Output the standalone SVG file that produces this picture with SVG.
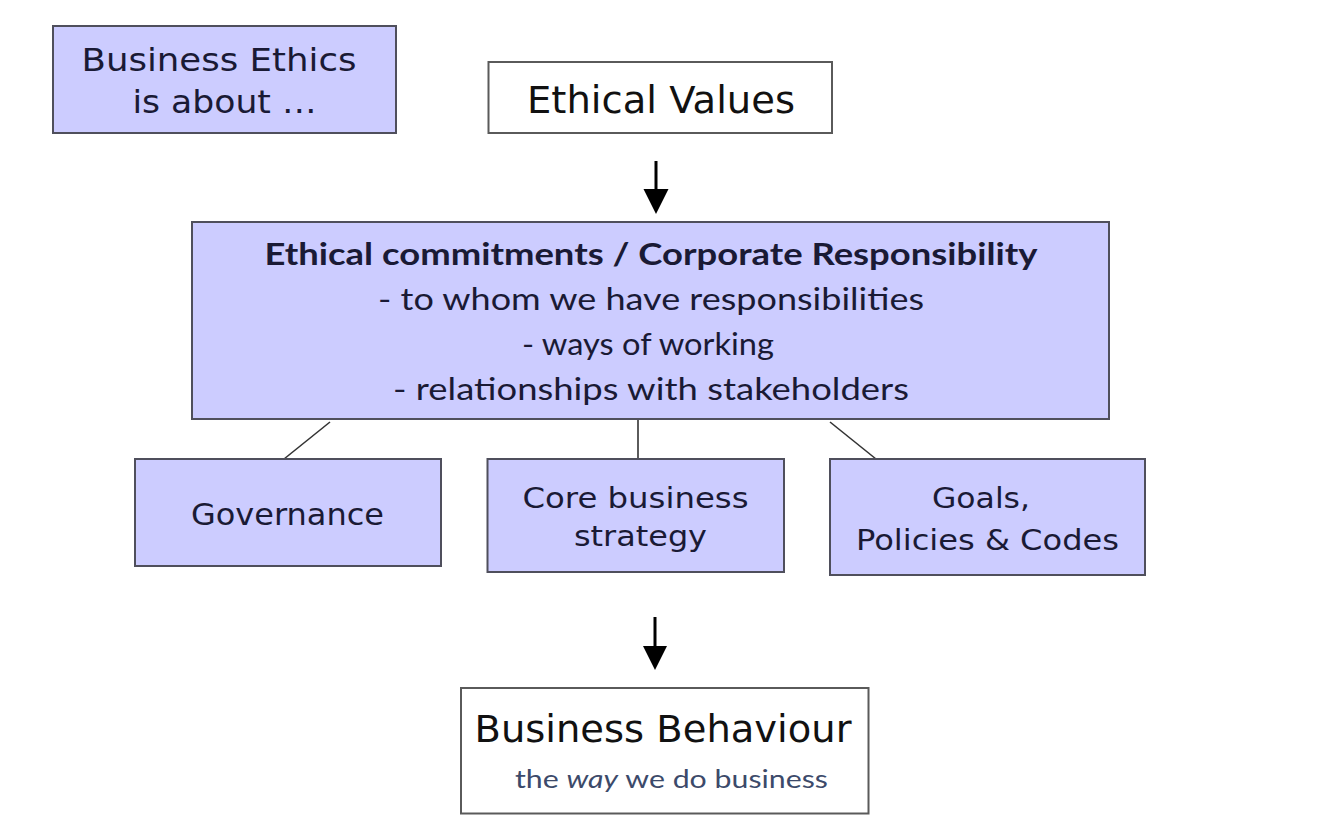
<svg xmlns="http://www.w3.org/2000/svg" width="1330" height="826" viewBox="0 0 1330 826">
  <style>
    .bg { fill: #ffffff; }
    .lav { fill: #ccccff; stroke: #4f4f5c; stroke-width: 2; }
    .wht { fill: #ffffff; stroke: #5a5a5a; stroke-width: 2; }
    .v { font-family: "DejaVu Sans", Verdana, sans-serif; text-anchor: middle; }
    .c { font-family: Lato, "Open Sans", sans-serif; text-anchor: middle; }
    .dk { fill: #1a1a35; }
    .bk { fill: #111111; }
    .sub { fill: #3c4a6a; }
    .conn { stroke: #333333; stroke-width: 1.6; fill: none; }
    .arr { stroke: #000000; stroke-width: 3; fill: none; }
    .head { fill: #000000; }
  </style>
  <rect class="bg" x="0" y="0" width="1330" height="826"/>

  <g id="connectors">
    <line class="conn" x1="330" y1="422" x2="284" y2="459"/>
    <line class="conn" x1="638" y1="419" x2="638" y2="459"/>
    <line class="conn" x1="830" y1="422" x2="876" y2="459"/>
    <line class="arr" x1="656" y1="161" x2="656" y2="192"/>
    <polygon class="head" points="643.5,189 668.5,189 656,214"/>
    <line class="arr" x1="655" y1="617" x2="655" y2="649"/>
    <polygon class="head" points="643,646 667,646 655,670"/>
  </g>

  <g id="business-ethics">
    <rect class="lav" x="53" y="26" width="343" height="107"/>
    <text class="v dk" x="219" y="71" font-size="32" textLength="275" lengthAdjust="spacingAndGlyphs">Business Ethics</text>
    <text class="v dk" x="224.5" y="113" font-size="32" textLength="184" lengthAdjust="spacingAndGlyphs">is about …</text>
  </g>

  <g id="ethical-values">
    <rect class="wht" x="488.5" y="62" width="343.5" height="71"/>
    <text class="v bk" x="661" y="112.5" font-size="37" textLength="268" lengthAdjust="spacingAndGlyphs">Ethical Values</text>
  </g>

  <g id="ethical-commitments">
    <rect class="lav" x="192" y="222" width="917" height="197"/>
    <text class="c dk" x="651" y="265" font-size="30" font-weight="bold" textLength="773" lengthAdjust="spacingAndGlyphs">Ethical commitments / Corporate Responsibility</text>
    <text class="c dk" x="651" y="310" font-size="30" textLength="546" lengthAdjust="spacingAndGlyphs">- to whom we have responsibilities</text>
    <text class="c dk" x="648" y="355" font-size="30" textLength="252" lengthAdjust="spacingAndGlyphs">- ways of working</text>
    <text class="c dk" x="651" y="400" font-size="30" textLength="516" lengthAdjust="spacingAndGlyphs">- relationships with stakeholders</text>
  </g>

  <g id="governance">
    <rect class="lav" x="135" y="459" width="306" height="107"/>
    <text class="v dk" x="287.5" y="525" font-size="31" textLength="193" lengthAdjust="spacingAndGlyphs">Governance</text>
  </g>

  <g id="core-business-strategy">
    <rect class="lav" x="487.5" y="459" width="296.5" height="113"/>
    <text class="v dk" x="635.5" y="508" font-size="29" textLength="226" lengthAdjust="spacingAndGlyphs">Core business</text>
    <text class="v dk" x="640.5" y="546" font-size="29" textLength="133" lengthAdjust="spacingAndGlyphs">strategy</text>
  </g>

  <g id="goals-policies-codes">
    <rect class="lav" x="830" y="459" width="315" height="116"/>
    <text class="v dk" x="981" y="508" font-size="29" textLength="98" lengthAdjust="spacingAndGlyphs">Goals,</text>
    <text class="v dk" x="987.5" y="550" font-size="29" textLength="263" lengthAdjust="spacingAndGlyphs">Policies &amp; Codes</text>
  </g>

  <g id="business-behaviour">
    <rect class="wht" x="461" y="688" width="407.5" height="125.5"/>
    <text class="v bk" x="663" y="742" font-size="37" textLength="377" lengthAdjust="spacingAndGlyphs">Business Behaviour</text>
    <text class="c sub" x="671.5" y="788" font-size="25" textLength="313" lengthAdjust="spacingAndGlyphs">the <tspan font-style="italic">way</tspan> we do business</text>
  </g>
</svg>
